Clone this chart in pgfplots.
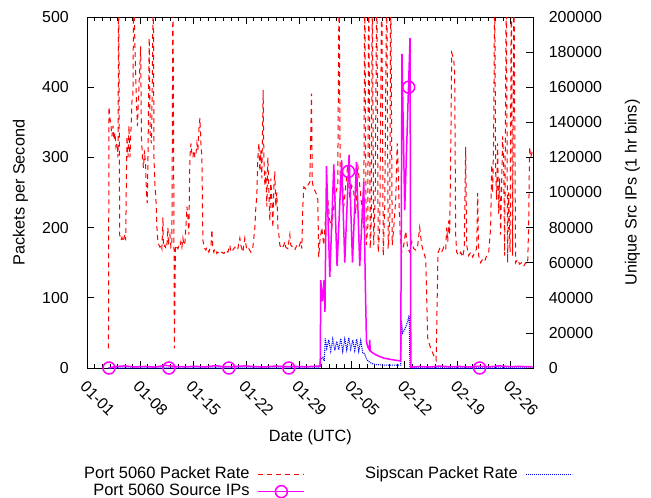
\documentclass[border=0pt]{standalone}
\usepackage{fontspec}
\setmainfont{Liberation Sans}
\usepackage{pgfplots}
\usepackage{pgfplotstable}
\pgfplotsset{compat=1.18}
\definecolor{pktred}{RGB}{255,0,0}
\definecolor{sipblue}{RGB}{0,0,255}
\definecolor{ipmag}{RGB}{255,0,255}

% day = days since 01-01 (UTC), pps = packets per second
\pgfplotstableread{
day pps
2.80 28
2.87 372
3.00 355
3.13 345
3.26 330
3.40 345
3.53 325
3.66 335
3.79 315
3.93 320
4.06 300
4.15 560
4.28 190
4.45 182
4.59 186
4.72 180
4.85 185
4.98 190
5.08 182
5.18 280
5.25 330
5.38 300
5.51 345
5.64 300
5.78 340
5.91 380
6.04 390
6.14 560
6.28 470
6.37 430
6.50 380
6.63 345
6.83 400
7.06 458
7.16 330
7.30 300
7.43 285
7.56 310
7.70 290
7.83 250
7.93 235
8.02 290
8.19 470
8.33 330
8.49 320
8.62 430
8.73 560
8.82 300
8.95 260
9.08 240
9.21 200
9.34 180
9.48 175
9.61 172
9.74 175
9.87 170
10.00 215
10.07 178
10.14 172
10.27 175
10.40 170
10.53 175
10.67 200
10.73 175
10.80 185
10.93 190
11.06 172
11.19 175
11.33 560
11.52 28
11.66 170
11.72 175
11.86 172
11.99 170
12.12 175
12.25 173
12.38 180
12.52 172
12.65 185
12.78 175
12.91 178
13.04 200
13.18 230
13.31 215
13.44 190
13.51 250
13.57 300
13.71 320
13.84 305
13.97 300
14.10 310
14.23 300
14.37 305
14.50 320
14.63 310
14.76 340
14.90 356
15.03 320
15.16 300
15.29 182
15.42 175
15.55 170
15.69 168
15.82 172
15.95 168
16.08 165
16.22 170
16.35 172
16.48 197
16.61 170
16.74 165
16.88 170
17.01 168
17.14 163
17.27 165
17.54 162
17.80 165
18.07 163
18.33 168
18.60 165
18.86 175
18.99 165
19.26 168
19.52 172
19.65 168
19.92 170
20.18 185
20.31 175
20.58 165
20.84 185
21.11 168
21.37 170
21.64 165
21.90 172
22.17 200
22.30 230
22.43 245
22.56 300
22.70 320
22.83 280
22.96 310
23.09 270
23.26 396
23.36 300
23.49 260
23.62 280
23.75 230
23.88 300
24.02 250
24.15 210
24.28 270
24.41 240
24.55 200
24.68 260
24.81 280
24.94 230
25.07 250
25.21 200
25.34 190
25.47 175
25.73 170
26.00 175
26.13 180
26.26 172
26.53 170
26.79 190
26.92 175
27.19 172
27.45 168
27.72 175
27.98 172
28.24 180
28.38 170
28.51 230
28.64 258
28.91 255
29.17 260
29.44 265
29.66 391
29.76 265
29.96 255
30.23 250
30.49 240
30.62 158
30.76 180
31.02 200
31.28 175
31.55 220
31.81 240
32.08 210
32.34 200
32.61 230
32.87 250
33.13 260
33.31 560
33.47 240
33.66 280
33.93 230
34.19 260
34.46 290
34.72 240
34.98 260
35.25 250
35.51 220
35.78 290
36.04 260
36.31 230
36.57 200
36.70 560
36.90 175
37.10 200
37.23 560
37.43 170
37.56 200
37.70 560
37.89 175
38.09 250
38.29 560
38.49 165
38.69 200
38.95 560
39.15 160
39.35 230
39.61 560
39.81 170
40.01 210
40.14 560
40.34 175
40.54 200
40.80 240
41.00 320
41.13 280
41.26 230
41.40 190
41.59 165
41.86 175
42.12 195
42.39 170
42.65 165
42.92 180
43.18 170
43.44 168
43.71 175
43.97 200
44.24 175
44.50 165
44.77 155
45.03 43
45.30 32
45.56 25
45.82 18
46.15 11
46.39 164
46.62 170
46.88 165
47.15 172
47.41 168
47.54 200
47.68 180
47.81 210
47.94 190
48.07 300
48.21 449
48.47 440
48.60 420
48.73 190
48.87 165
49.13 160
49.40 165
49.66 158
49.86 170
50.05 315
50.19 175
50.45 160
50.72 165
50.98 158
51.25 165
51.51 170
51.64 249
51.77 160
52.04 150
52.30 155
52.57 152
52.83 160
53.10 165
53.36 200
53.49 290
53.62 250
53.75 320
53.89 560
54.02 280
54.15 240
54.28 320
54.41 220
54.55 270
54.68 190
54.81 260
54.94 330
55.07 300
55.21 160
55.43 560
55.60 150
55.73 250
55.93 165
56.09 560
56.26 160
56.44 560
56.66 150
56.92 155
57.19 148
57.45 150
57.72 145
57.98 150
58.25 148
58.38 200
58.51 315
58.65 300
58.91 310
}\pktrate

\pgfplotstableread{
day pps
2.80 0
30.62 0
30.82 12
31.15 15
31.35 10
31.48 42
31.68 28
31.94 40
32.21 24
32.47 41
32.74 25
33.00 38
33.26 26
33.53 42
33.79 24
34.06 41
34.32 26
34.59 43
34.85 27
35.12 40
35.38 25
35.64 41
35.91 24
36.17 39
36.44 22
36.70 20
36.97 12
37.36 8
38.02 5
39.35 4
41.46 4
41.55 68
41.72 50
41.99 55
42.25 62
42.58 75
42.69 0
58.91 0
}\sipscan

\pgfplotstableread{
day ips
2.80 0
3.66 800
4.98 1200
6.30 600
7.62 900
8.95 500
10.27 1500
11.66 800
12.91 700
14.23 1000
15.55 600
16.88 1300
18.20 700
19.52 900
20.84 1200
22.17 800
23.49 600
24.81 1100
26.13 800
27.45 900
28.77 700
30.09 1000
30.82 1000
30.88 50000
31.11 38000
31.32 50000
31.44 32000
31.64 115000
32.08 52000
32.61 116000
33.04 58000
33.65 118500
34.06 60000
34.63 121500
35.08 60000
35.61 117500
36.04 58000
36.57 106000
36.77 50000
36.93 15000
37.10 12000
37.30 10500
37.36 16000
37.43 10000
37.63 9000
38.16 7500
38.69 6500
39.35 5500
40.01 5000
40.67 4500
41.46 4000
41.63 179000
41.99 90000
42.69 188000
42.80 500
43.97 900
45.30 600
46.62 1100
47.94 700
49.27 900
50.58 600
51.90 1000
53.23 700
54.55 1200
55.87 800
57.19 900
58.91 700
}\srcips

\pgfplotstableread{
day ips
2.87 0
10.80 0
18.73 0
26.66 0
34.55 112000
42.52 160000
51.90 0
}\srcmarks

\pgfplotsset{
  gp/.style={
    scale only axis, width=446bp, height=351bp,
    xmin=0, xmax=59,
    tick align=inside,
    major tick length=7bp, minor tick length=4bp,
    every tick/.append style={black, line width=0.8bp},
    axis line style={line width=0.8bp},
    /pgf/number format/assume math mode=true,
    tick label style={font=\fontsize{16}{18}\selectfont},
    label style={font=\fontsize{16.3}{18}\selectfont},
  },
  pktstyle/.style={draw=pktred, color=pktred, line width=1bp, dash pattern=on 5bp off 4bp},
  sipstyle/.style={draw=sipblue, color=sipblue, line width=1.1bp, dash pattern=on 1bp off 1bp},
}

\begin{document}
\begin{tikzpicture}
\begin{axis}[gp,
    ymin=0, ymax=500, ytick={0,100,...,500},
    ytick pos=left, xtick pos=both,
    xtick={0,7,...,56},
    xticklabels={01-01,01-08,01-15,01-22,01-29,02-05,02-12,02-19,02-26},
    minor x tick num=6,
    xticklabel style={rotate=-45, anchor=north west, xshift=5bp, yshift=-5bp},
    yticklabel style={xshift=-15bp},
    xlabel={Date (UTC)},
    xlabel style={at={(axis description cs:0.5,-0.1966)}, anchor=center},
    ylabel={Packets per Second},
    ylabel style={at={(axis description cs:-0.150,0.5)}, anchor=center, rotate=0},
]
\addplot[pktstyle] table[x=day, y=pps] {\pktrate};
\addplot[sipstyle] table[x=day, y=pps] {\sipscan};
\end{axis}

\begin{axis}[gp,
    ymin=0, ymax=200000, ytick={0,20000,...,200000},
    scaled y ticks=false,
    yticklabel style={/pgf/number format/fixed, /pgf/number format/1000 sep={}, xshift=12bp},
    axis y line*=right, axis x line=none,
    clip=false,
    ylabel={Unique Src IPs (1 hr bins)},
    ylabel style={at={(axis description cs:1.222,0.5)}, anchor=center, rotate=0},
    legend columns=2,
    legend plot pos=right,
    legend cell align=right,
    legend image code/.code={\draw[mark repeat=2, mark phase=2, #1] plot coordinates {(0bp,0bp) (23bp,0bp) (46bp,0bp)};},
    legend style={at={(axis description cs:-0.0096,-0.279)}, anchor=north west,
        draw=none, fill=none, inner sep=0pt, row sep=0pt,
        font=\fontsize{16.5}{18}\selectfont,
        nodes={inner sep=1bp, text height=11bp, text depth=4bp},
        /tikz/column 1/.style={column sep=7bp},
        /tikz/column 2/.style={column sep=59bp},
        /tikz/column 3/.style={column sep=7bp}},
]
\coordinate (sw) at (rel axis cs:0,0);
\addlegendimage{pktstyle}
\addlegendentry{Port 5060 Packet Rate}
\addlegendimage{sipstyle}
\addlegendentry{Sipscan Packet Rate}
\addlegendimage{draw=ipmag, color=ipmag, line width=1.5bp, mark=o, mark size=6bp, mark options={solid}}
\addlegendentry{Port 5060 Source IPs}
\addplot[ipmag, line width=1.5bp, forget plot] table[x=day, y=ips] {\srcips};
\addplot[ipmag, line width=1.5bp, only marks, mark=o, mark size=6bp, forget plot] table[x=day, y=ips] {\srcmarks};
\end{axis}
\pgfresetboundingbox
\path[use as bounding box] ([xshift=-87.3bp,yshift=-130bp]sw) rectangle ([xshift=563.7bp,yshift=368bp]sw);
\end{tikzpicture}
\end{document}
